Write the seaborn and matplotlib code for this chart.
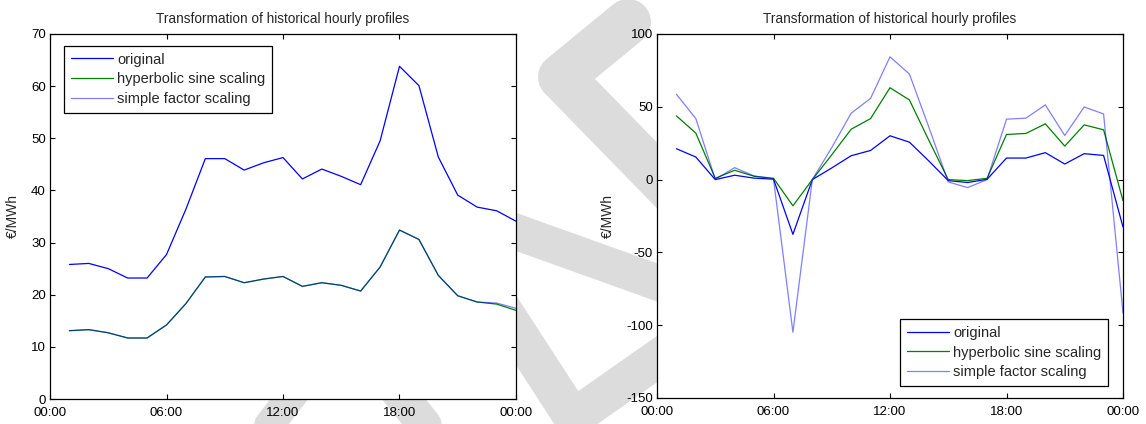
import matplotlib
matplotlib.use("Agg")
import matplotlib.pyplot as plt
from matplotlib.lines import Line2D
import seaborn as sns

# hourly profile points (01:00 ... 24:00)
hours = list(range(1, 25))

# left panel
left_original = [25.8, 26.0, 25.0, 23.2, 23.2, 27.7, 36.4, 46.1, 46.1, 43.9, 45.3, 46.3,
                 42.2, 44.1, 42.7, 41.1, 49.5, 63.8, 60.1, 46.4, 39.1, 36.8, 36.1, 34.1]
left_sinh = [13.1, 13.3, 12.7, 11.7, 11.7, 14.2, 18.3, 23.4, 23.5, 22.3, 23.0, 23.5,
             21.6, 22.3, 21.8, 20.7, 25.3, 32.4, 30.6, 23.7, 19.8, 18.6, 18.2, 17.0]
left_factor = [13.1, 13.3, 12.7, 11.7, 11.7, 14.2, 18.3, 23.4, 23.5, 22.3, 23.0, 23.5,
               21.6, 22.3, 21.8, 20.7, 25.3, 32.4, 30.6, 23.7, 19.8, 18.6, 18.4, 17.4]

# right panel
right_original = [21.2, 15.5, 0.0, 3.0, 1.0, 0.3, -37.6, 0.0, 8.0, 16.4, 20.0, 30.1,
                  25.7, 12.8, -0.7, -2.0, 0.2, 14.8, 14.8, 18.5, 10.7, 17.8, 16.6, -32.6]
right_sinh = [43.8, 31.9, 0.9, 6.4, 2.3, 0.9, -18.0, 0.0, 17.0, 34.6, 41.9, 63.1,
              54.7, 27.0, 0.0, -0.7, 0.9, 31.0, 31.7, 38.3, 23.0, 37.6, 34.2, -14.5]
right_factor = [58.6, 41.9, 0.2, 8.2, 2.5, 0.5, -104.8, 0.0, 22.0, 45.6, 55.8, 84.3,
                72.5, 36.0, -1.6, -5.5, 0.0, 41.5, 42.2, 51.3, 30.3, 49.9, 45.1, -91.6]

labels = ["original", "hyperbolic sine scaling", "simple factor scaling"]
xticks = [0, 6, 12, 18, 24]
xtick_labels = ["00:00", "06:00", "12:00", "18:00", "00:00"]
left_yticks = [0, 10, 20, 30, 40, 50, 60, 70]
right_yticks = [-150, -100, -50, 0, 50, 100]
title = "Transformation of historical hourly profiles"
ylabel = "€/MWh"

sns.set_style("ticks")
plt.rcParams['font.family'] = ['Liberation Sans', 'DejaVu Sans']
plt.rcParams['axes.unicode_minus'] = False

W, H = 1146, 424
fig = plt.figure(figsize=(W / 100, H / 100), dpi=100)
fig.patch.set_facecolor("white")


# light grey watermark stripes behind the axes
def stripe(pts, lw_px):
    xs = [p[0] / W for p in pts]
    ys = [1 - p[1] / H for p in pts]
    fig.add_artist(Line2D(xs, ys, transform=fig.transFigure, color="#dcdcdc",
                          lw=lw_px * 0.72, solid_capstyle="round",
                          solid_joinstyle="round", zorder=-5))


stripe([(628, 22), (561, 77), (720, 240)], 46)
stripe([(480, 219), (720, 305)], 36)
stripe([(490, 290), (573, 418), (720, 315)], 38)
stripe([(380, 370), (445, 450)], 34)
stripe([(250, 450), (300, 385)], 30)

ax1 = fig.add_axes([50 / W, 1 - 399 / H, 466 / W, 365 / H])
ax2 = fig.add_axes([657 / W, 1 - 398 / H, 466 / W, 364 / H])


def panel(ax, orig, sinh, factor, ylim, yticks, loc, anchor):
    ax.set_facecolor("white")
    sns.lineplot(x=hours, y=orig, color="#0000ff", lw=0.9, label=labels[0], ax=ax)
    sns.lineplot(x=hours, y=sinh, color="#008000", lw=0.9, label=labels[1], ax=ax)
    sns.lineplot(x=hours, y=factor, color="#0000ff", alpha=0.5, lw=0.9,
                 label=labels[2], ax=ax)
    ax.set_xlim(0, 24)
    ax.set_ylim(*ylim)
    ax.set_xticks(xticks)
    ax.set_xticklabels(xtick_labels)
    ax.set_yticks(yticks)
    ax.tick_params(direction="in", top=True, right=True, length=3.5, width=0.8,
                   labelsize=9.5, colors="black")
    ax.tick_params(axis="x", pad=6)
    ax.tick_params(axis="y", pad=3)
    for s in ax.spines.values():
        s.set_visible(True)
        s.set_linewidth(0.9)
        s.set_color("black")
    ax.set_title(title, fontsize=9.8, pad=8)
    ax.set_ylabel(ylabel, fontsize=10, labelpad=8)
    ax.set_xlabel("")
    leg = ax.legend(loc=loc, bbox_to_anchor=anchor, borderaxespad=0,
                    fontsize=10.5, frameon=True, fancybox=False, framealpha=1,
                    edgecolor="black", handlelength=2.9, handletextpad=0.3,
                    labelspacing=0.4, borderpad=0.45)
    leg.get_frame().set_linewidth(0.9)


panel(ax1, left_original, left_sinh, left_factor, (0, 70), left_yticks,
      "upper left", (14 / 466, 1 - 12 / 365))
panel(ax2, right_original, right_sinh, right_factor, (-150, 100), right_yticks,
      "lower right", (1 - 15 / 466, 12 / 364))

fig.savefig("out.png", dpi=100, facecolor="white")
